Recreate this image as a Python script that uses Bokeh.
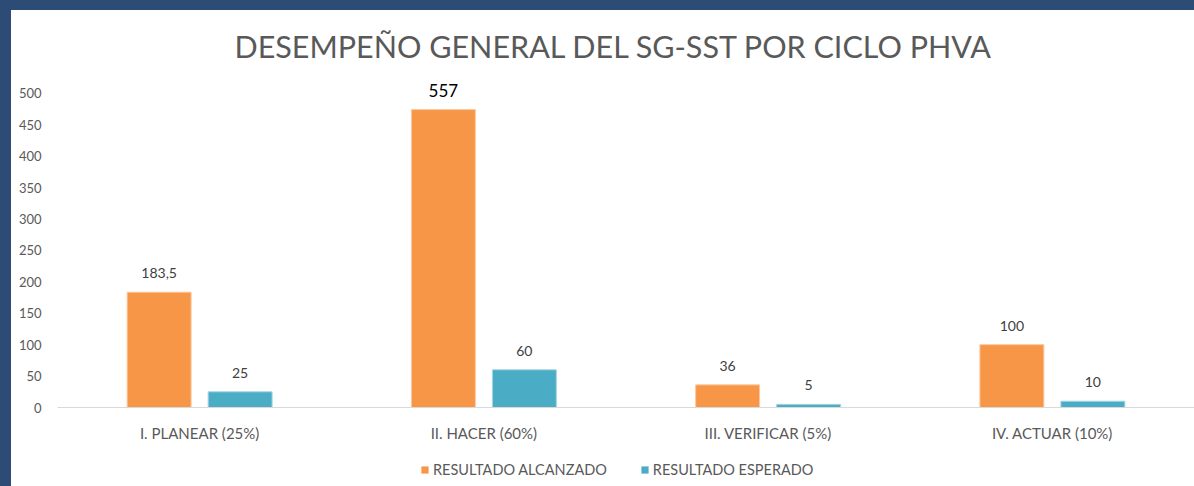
from bokeh.plotting import figure
from bokeh.layouts import column
from bokeh.models import ColumnDataSource, LabelSet, FixedTicker, Range1d, Legend
from bokeh.transform import dodge
from bokeh.core.properties import value
from bokeh.embed import file_html
from bokeh.resources import INLINE

categories = ["I. PLANEAR (25%)", "II. HACER (60%)", "III. VERIFICAR (5%)", "IV. ACTUAR (10%)"]
alcanzado = [183.5, 474, 36, 100]
alcanzado_labels = ["183,5", "557", "36", "100"]
esperado = [25, 60, 5, 10]
esperado_labels = ["25", "60", "5", "10"]
y_ticks = [0, 50, 100, 150, 200, 250, 300, 350, 400, 450, 500]
series_names = ["RESULTADO ALCANZADO", "RESULTADO ESPERADO"]

ORANGE = "#F79646"
TEAL = "#4BACC6"
GREY = "#595959"
BLUE = "#2d4c75"
FONT = "Lato"
W = 1183

src_a = ColumnDataSource(dict(
    cat=categories, val=alcanzado, lab=alcanzado_labels,
    fs=["14px", "17px", "14px", "14px"],
    col=["#404040", "#000000", "#404040", "#404040"],
))
src_e = ColumnDataSource(dict(
    cat=categories, val=esperado, lab=esperado_labels,
    fs=["14px"] * 4, col=["#404040"] * 4,
))

p = figure(
    x_range=categories, y_range=Range1d(0, 533),
    width=W, height=440, output_backend="svg", toolbar_location=None,
    min_border_left=46, min_border_right=0, min_border_top=62, min_border_bottom=43,
    title="DESEMPEÑO GENERAL DEL SG-SST POR CICLO PHVA",
)
p.x_range.range_padding = 0
p.title.align = "left"
p.title.offset = 177
p.title.text_font = FONT
p.title.text_font_size = "30.5px"
p.title.text_font_style = "normal"
p.title.text_color = GREY
p.title.standoff = 18

off = 0.1425
bw = 0.225
p.vbar(x=dodge("cat", -off, range=p.x_range), top="val", width=bw, source=src_a,
       fill_color=ORANGE, line_color="#fbc9a0", line_width=1)
p.vbar(x=dodge("cat", off, range=p.x_range), top="val", width=bw, source=src_e,
       fill_color=TEAL, line_color="#a5d6e3", line_width=1)

for src, dx in ((src_a, -off), (src_e, off)):
    p.add_layout(LabelSet(x=dodge("cat", dx, range=p.x_range), y="val", text="lab", source=src,
                          text_align="center", text_baseline="middle", y_offset=19,
                          text_font_size="fs", text_color="col", text_font=value(FONT)))

p.xgrid.visible = False
p.ygrid.visible = False
p.outline_line_color = None

p.yaxis.ticker = FixedTicker(ticks=y_ticks)
p.yaxis.axis_line_color = None
p.yaxis.major_tick_line_color = None
p.yaxis.minor_tick_line_color = None
p.yaxis.major_label_text_font = FONT
p.yaxis.major_label_text_font_size = "13px"
p.yaxis.major_label_text_color = GREY
p.yaxis.major_label_standoff = 10

p.xaxis.axis_line_color = "#d9d9d9"
p.xaxis.axis_line_width = 1
p.xaxis.major_tick_line_color = None
p.xaxis.minor_tick_line_color = None
p.xaxis.major_label_text_font = FONT
p.xaxis.major_label_text_font_size = "15px"
p.xaxis.major_label_text_color = GREY
p.xaxis.major_label_standoff = 10

# legend strip below the chart (its renderers are zero-size, only their styles are used)
pl = figure(width=W, height=36, output_backend="svg", toolbar_location=None,
            x_axis_location=None, y_axis_location=None,
            min_border=0, x_range=Range1d(0, 1), y_range=Range1d(0, 1))
pl.grid.visible = False
pl.outline_line_color = None
la = pl.vbar(x=[0.5], top=[0.5], bottom=[0.5], width=0, fill_color=ORANGE, line_color=None)
le = pl.vbar(x=[0.5], top=[0.5], bottom=[0.5], width=0, fill_color=TEAL, line_color=None)
legend = Legend(items=[(series_names[0], [la]), (series_names[1], [le])],
                orientation="horizontal", location=(363, 8),
                border_line_color=None, background_fill_alpha=0,
                label_text_font=FONT, label_text_font_size="14.5px", label_text_color=GREY,
                glyph_width=9, glyph_height=9, spacing=33, padding=0, margin=0,
                label_standoff=4)
pl.add_layout(legend)

layout = column(p, pl, spacing=0)
layout.styles = {"border-left": f"11px solid {BLUE}", "border-top": f"10px solid {BLUE}"}

open("out.html", "w").write(file_html(layout, INLINE))
